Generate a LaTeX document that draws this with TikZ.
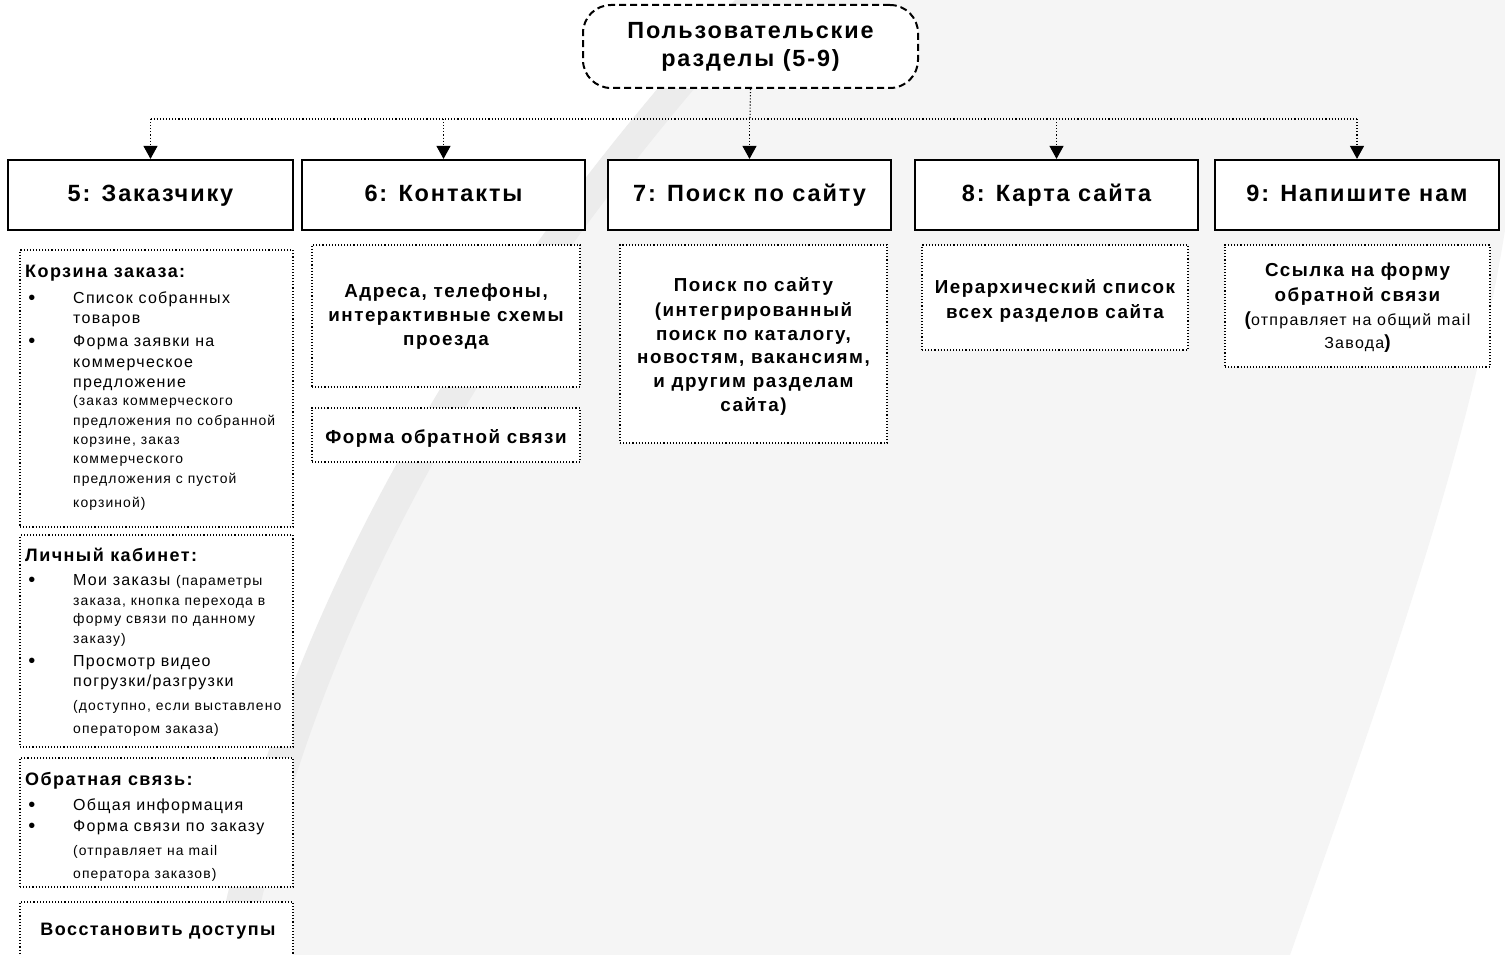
\documentclass[tikz,border=0pt]{standalone}
\usepackage{fontspec}
\setmainfont{Liberation Sans}[LetterSpace=8]
\usetikzlibrary{arrows.meta,fit}
\definecolor{bgA}{HTML}{F5F5F5}
\definecolor{bgB}{HTML}{ECECEC}
\newcommand\fT{\fontsize{23.4}{28}\selectfont\bfseries}
\newcommand\fL{\fontsize{23.5}{26}\selectfont\bfseries}
\newcommand\fC{\fontsize{18.8}{24}\selectfont\bfseries}
\newcommand\fH{\fontsize{18}{20}\selectfont\bfseries}
\newcommand\fR{\fontsize{16}{18}\selectfont}
\newcommand\fS{\fontsize{13.9}{16}\selectfont}
\newcommand\bpar[1]{{\fontsize{19}{20}\selectfont\bfseries #1}}
\tikzset{
  topnode/.style={draw, line width=2pt, dash pattern=on 7pt off 4pt, rounded corners=28pt, fill=white, minimum width=335pt, minimum height=83pt, align=center, font=\fT, inner sep=0pt},
  mainbox/.style={draw, line width=2.2pt, fill=white, minimum height=70pt, inner sep=0pt, text height=17pt, text depth=5pt, font=\fL},
  subbox/.style={draw, line width=1.1pt, dotted, fill=white, inner sep=0pt},
  dotline/.style={line width=1.1pt, dotted},
  conn/.style={dotline, -{Triangle[width=14pt,length=13pt]}},
  ctext/.style={anchor=base, inner sep=0pt, font=\fC},
  htext/.style={anchor=base west, inner sep=0pt, font=\fH},
  rtext/.style={anchor=base west, inner sep=0pt, font=\fR},
  stext/.style={anchor=base west, inner sep=0pt, font=\fS},
  bul/.style={anchor=base, inner sep=0pt, font=\fontsize{20}{20}\selectfont},
}
\begin{document}
\begin{tikzpicture}[x=1pt,y=-1pt]
\useasboundingbox (0,0) rectangle (1505,955);
\clip (0,0) rectangle (1505,955);
\fill[white] (0,0) rectangle (1505,955);
% background swoosh
\fill[bgA] (735,0) -- (1505,0) -- (1505,230) .. controls (1470,450) and (1380,700) .. (1290,955)
  -- (215,955) .. controls (300,500) and (600,150) .. (735,0) -- cycle;
\fill[bgB] (735,0) -- (772,0) .. controls (636,150) and (336,500) .. (250,955)
  -- (215,955) .. controls (300,500) and (600,150) .. (735,0) -- cycle;

% top node
\node[topnode] (top) at (750.5,46.5) {Пользовательские\\разделы (5-9)};

% main boxes
\node[mainbox, minimum width=285pt] (b5) at (150.5,195) {5: Заказчику};
\node[mainbox, minimum width=283pt] (b6) at (443.5,195) {6: Контакты};
\node[mainbox, minimum width=283pt] (b7) at (749.5,195) {7: Поиск по сайту};
\node[mainbox, minimum width=283pt] (b8) at (1056.5,195) {8: Карта сайта};
\node[mainbox, minimum width=284pt] (b9) at (1357,195) {9: Напишите нам};

% connectors
\coordinate (hub) at (750,119);
\coordinate (h5) at (b5.north |- hub);
\coordinate (h6) at (b6.north |- hub);
\coordinate (h7) at (b7.north |- hub);
\coordinate (h8) at (b8.north |- hub);
\coordinate (h9) at (b9.north |- hub);
\draw[dotline] (top.south) -- (hub);
\draw[dotline] (h5) -- (h9);
\foreach \k in {5,6,7,8,9} \draw[conn] (h\k) -- (b\k.north);

% sub boxes
\node[subbox, fit={(20,250) (293,527)}] (k1) {};
\node[subbox, fit={(20,535) (293,747)}] (k2) {};
\node[subbox, fit={(20,758) (293,887)}] (k3) {};
\node[subbox, fit={(20,902) (293,975)}] (k4) {};
\node[subbox, fit={(312,245) (580,387)}] (c6a) {};
\node[subbox, fit={(312,408) (580,462)}] (c6b) {};
\node[subbox, fit={(620,245) (887,443)}] (c7) {};
\node[subbox, fit={(922,245) (1188,350)}] (c8) {};
\node[subbox, fit={(1225,245) (1490,367)}] (c9) {};

% column 5 : Корзина заказа
\node[htext] (k1h) at (25,277) {Корзина заказа:};
\node[bul] (k1b1) at (32,304) {•};
\node[rtext] (k1l1) at (73,303) {Список собранных};
\node[rtext] (k1l2) at (73,323.5) {товаров};
\node[bul] (k1b2) at (32,347) {•};
\node[rtext] (k1l3) at (73,346) {Форма заявки на};
\node[rtext] (k1l4) at (73,367) {коммерческое};
\node[rtext] (k1l5) at (73,387) {предложение};
\node[stext] (k1l6) at (73,405.5) {(заказ коммерческого};
\node[stext] (k1l7) at (73,425) {предложения по собранной};
\node[stext] (k1l8) at (73,444.5) {корзине, заказ};
\node[stext] (k1l9) at (73,463.5) {коммерческого};
\node[stext] (k1l10) at (73,483.5) {предложения с пустой};
\node[stext] (k1l11) at (73,507) {корзиной)};

% Личный кабинет
\node[htext] (k2h) at (25,561.5) {Личный кабинет:};
\node[bul] (k2b1) at (32,586) {•};
\node[rtext] (k2l1) at (73,585) {Мои заказы {\fS(параметры}};
\node[stext] (k2l2) at (73,605) {заказа, кнопка перехода в};
\node[stext] (k2l3) at (73,623.5) {форму связи по данному};
\node[stext] (k2l4) at (73,643) {заказу)};
\node[bul] (k2b2) at (32,667.5) {•};
\node[rtext] (k2l5) at (73,666.5) {Просмотр видео};
\node[rtext] (k2l6) at (73,686.5) {погрузки/разгрузки};
\node[stext] (k2l7) at (73,710) {(доступно, если выставлено};
\node[stext] (k2l8) at (73,733.5) {оператором заказа)};

% Обратная связь
\node[htext] (k3h) at (25,785) {Обратная связь:};
\node[bul] (k3b1) at (32,811) {•};
\node[rtext] (k3l1) at (73,810) {Общая информация};
\node[bul] (k3b2) at (32,832.5) {•};
\node[rtext] (k3l2) at (73,831.5) {Форма связи по заказу};
\node[stext] (k3l3) at (73,855) {(отправляет на mail};
\node[stext] (k3l4) at (73,878.5) {оператора заказов)};

% Восстановить доступы
\node[anchor=base, inner sep=0pt, font=\fH] (k4t) at (158,935) {Восстановить доступы};

% column 6
\node[ctext] (c6l1) at (446,297) {Адреса, телефоны,};
\node[ctext] (c6l2) at (446,321) {интерактивные схемы};
\node[ctext] (c6l3) at (446,345) {проезда};
\node[ctext] (c6l4) at (446,443) {Форма обратной связи};

% column 7
\node[ctext] (c7l1) at (753.5,291.5) {Поиск по сайту};
\node[ctext] (c7l2) at (753.5,316) {(интегрированный};
\node[ctext] (c7l3) at (753.5,340) {поиск по каталогу,};
\node[ctext] (c7l4) at (753.5,363.5) {новостям, вакансиям,};
\node[ctext] (c7l5) at (753.5,387) {и другим разделам};
\node[ctext] (c7l6) at (753.5,411) {сайта)};

% column 8
\node[ctext] (c8l1) at (1055,293.5) {Иерархический список};
\node[ctext] (c8l2) at (1055,318.5) {всех разделов сайта};

% column 9
\node[ctext] (c9l1) at (1357.5,276.5) {Ссылка на форму};
\node[ctext] (c9l2) at (1357.5,301.5) {обратной связи};
\node[anchor=base, inner sep=0pt, font=\fR] (c9l3) at (1357.5,325) {\bpar{(}отправляет на общий mail};
\node[anchor=base, inner sep=0pt, font=\fR] (c9l4) at (1357.5,348.5) {Завода\bpar{)}};
\end{tikzpicture}
\end{document}
